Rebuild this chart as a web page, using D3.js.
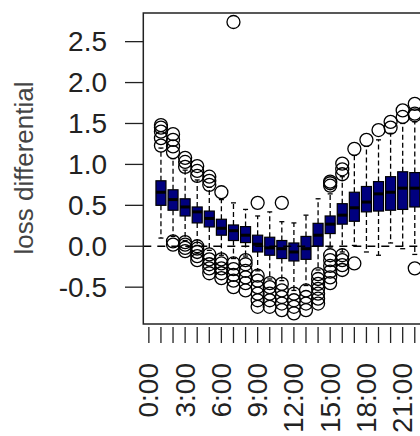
<!DOCTYPE html>
<html>
<head>
<meta charset="utf-8">
<script src="https://cdn.jsdelivr.net/npm/d3@7"></script>
<style>
  body { margin: 0; background: #fff; }
  text { font-family: "Liberation Sans", Arial, sans-serif; }
</style>
</head>
<body>
<svg id="chart" width="420" height="436"></svg>
<script>
// hour of day for each box (box k sits at axis position k)
const hours = [1,2,3,4,5,6,7,8,9,10,11,12,13,14,15,16,17,18,19,20,21,22]
const whiskerLow  = [0.10,0.12,0.07,0.01,-0.05,-0.11,-0.15,-0.12,-0.30,-0.40,-0.42,-0.54,-0.48,-0.29,-0.01,-0.07,0.01,-0.07,-0.11,0.04,-0.03,-0.10]
const q1          = [0.50,0.44,0.37,0.285,0.236,0.135,0.07,0.045,-0.07,-0.11,-0.15,-0.18,-0.16,0.0,0.155,0.27,0.305,0.42,0.43,0.44,0.45,0.48]
const medians     = [0.66,0.57,0.48,0.42,0.34,0.22,0.19,0.135,0.025,-0.02,-0.03,-0.07,-0.03,0.135,0.27,0.38,0.47,0.54,0.64,0.66,0.71,0.71]
const q3          = [0.80,0.69,0.58,0.48,0.43,0.33,0.26,0.24,0.135,0.11,0.07,0.04,0.12,0.28,0.37,0.52,0.66,0.73,0.79,0.85,0.91,0.90]
const whiskerHigh = [1.20,1.07,0.93,0.81,0.72,0.57,0.53,0.45,0.37,0.42,0.30,0.285,0.38,0.58,0.64,0.85,1.11,1.22,1.30,1.38,1.50,1.52]
const outliers = [
  [1.23,1.32,1.40,1.45,1.48],
  [0.02,0.06,1.15,1.22,1.30,1.37],
  [-0.06,-0.02,0.02,0.05,0.97,1.03,1.08],
  [-0.17,-0.12,-0.07,-0.03,0.0,0.86,0.92,0.98],
  [-0.33,-0.27,-0.22,-0.16,-0.10,0.75,0.80,0.85],
  [-0.39,-0.33,-0.27,-0.21,-0.16,0.66],
  [-0.50,-0.42,-0.35,-0.28,-0.21,2.74],
  [-0.54,-0.45,-0.38,-0.30,-0.22,-0.17],
  [-0.74,-0.66,-0.58,-0.50,-0.42,-0.36,0.53],
  [-0.74,-0.66,-0.58,-0.50,-0.45],
  [-0.78,-0.70,-0.62,-0.54,-0.46,0.53],
  [-0.82,-0.74,-0.66,-0.58],
  [-0.78,-0.70,-0.62,-0.54],
  [-0.70,-0.64,-0.58,-0.52,-0.46,-0.40,-0.34],
  [-0.45,-0.38,-0.31,-0.24,-0.17,-0.11,0.74,0.77,0.79],
  [-0.29,-0.23,-0.17,-0.11,0.88,0.94,1.01],
  [-0.21,1.19],
  [1.30],
  [1.42],
  [1.45,1.52],
  [1.58,1.66],
  [-0.27,1.60,1.62,1.74]
]
const tickPositions = d3.range(0, 26)
const hourLabels = ["0:00","3:00","6:00","9:00","12:00","15:00","18:00","21:00"]
const labelPositions = [0,3,6,9,12,15,18,21]
const yTicks = [-0.5,0,0.5,1,1.5,2,2.5]

var svg = d3.select("#chart")

var x = d3.scaleLinear().domain([-0.46, 25.46]).range([143.3, 456.6])
var y = d3.scaleLinear().domain([-0.95, 2.85]).range([324, 13])
var boxW = 10

let boxes = hours.map((h, i) => ({
  pos: h, lo: whiskerLow[i], q1: q1[i], med: medians[i], q3: q3[i], hi: whiskerHigh[i], out: outliers[i]
}))

// whiskers
svg.append("g").selectAll("line")
  .data(boxes.flatMap(b => [[b.pos, b.q3, b.hi], [b.pos, b.q1, b.lo]]))
  .enter().append("line")
  .attr("x1", d => x(d[0])).attr("x2", d => x(d[0]))
  .attr("y1", d => y(d[1])).attr("y2", d => y(d[2]))
  .attr("stroke", "#000").attr("stroke-width", 1.3)
  .attr("stroke-dasharray", "5,3")

// staples
svg.append("g").selectAll("line")
  .data(boxes.flatMap(b => [[b.pos, b.hi], [b.pos, b.lo]]))
  .enter().append("line")
  .attr("x1", d => x(d[0]) - boxW / 4).attr("x2", d => x(d[0]) + boxW / 4)
  .attr("y1", d => y(d[1])).attr("y2", d => y(d[1]))
  .attr("stroke", "#000").attr("stroke-width", 1.3)

// boxes
svg.append("g").selectAll("rect")
  .data(boxes)
  .enter().append("rect")
  .attr("x", d => x(d.pos) - boxW / 2)
  .attr("width", boxW)
  .attr("y", d => y(d.q3))
  .attr("height", d => y(d.q1) - y(d.q3))
  .attr("fill", "#00007f")
  .attr("stroke", "#000").attr("stroke-width", 1.2)

// medians
svg.append("g").selectAll("line")
  .data(boxes)
  .enter().append("line")
  .attr("x1", d => x(d.pos) - boxW / 2).attr("x2", d => x(d.pos) + boxW / 2)
  .attr("y1", d => y(d.med)).attr("y2", d => y(d.med))
  .attr("stroke", "#000").attr("stroke-width", 3)

// outliers
svg.append("g").selectAll("circle")
  .data(boxes.flatMap(b => b.out.map(v => [b.pos, v])))
  .enter().append("circle")
  .attr("cx", d => x(d[0])).attr("cy", d => y(d[1]))
  .attr("r", 6.5)
  .attr("fill", "none")
  .attr("stroke", "#000").attr("stroke-width", 1.3)

// zero line
svg.append("line")
  .attr("x1", x(-0.46)).attr("x2", x(25.46))
  .attr("y1", y(0)).attr("y2", y(0))
  .attr("stroke", "#000").attr("stroke-width", 1.3)
  .attr("stroke-dasharray", "8,6")

// frame
svg.append("rect")
  .attr("x", x(-0.46)).attr("y", y(2.85))
  .attr("width", x(25.46) - x(-0.46)).attr("height", y(-0.95) - y(2.85))
  .attr("fill", "none").attr("stroke", "#222").attr("stroke-width", 1.5)

// y axis
var yAxis = svg.append("g")
yAxis.selectAll("line").data(yTicks).enter().append("line")
  .attr("x1", 125).attr("x2", x(-0.46))
  .attr("y1", d => y(d)).attr("y2", d => y(d))
  .attr("stroke", "#222").attr("stroke-width", 1.3)
yAxis.selectAll("text").data(yTicks).enter().append("text")
  .attr("x", 107).attr("y", d => y(d))
  .attr("text-anchor", "end").attr("dominant-baseline", "central")
  .style("font-size", "28px").attr("fill", "#222")
  .text(d => d3.format(".1f")(d).replace("\u2212", "-"))

// x axis
var xAxis = svg.append("g")
xAxis.selectAll("line").data(tickPositions).enter().append("line")
  .attr("x1", d => x(d)).attr("x2", d => x(d))
  .attr("y1", 327).attr("y2", 343)
  .attr("stroke", "#222").attr("stroke-width", 1.3)
xAxis.selectAll("text").data(labelPositions).enter().append("text")
  .attr("transform", d => "translate(" + x(d) + ",363) rotate(-90)")
  .attr("text-anchor", "end").attr("dominant-baseline", "central")
  .style("font-size", "28px").attr("fill", "#222")
  .text((d, i) => hourLabels[i])

svg.append("text")
  .attr("transform", "translate(33,168) rotate(-90)")
  .attr("text-anchor", "middle")
  .style("font-size", "26px").attr("fill", "#444")
  .text("loss differential")
</script>
</body>
</html>
